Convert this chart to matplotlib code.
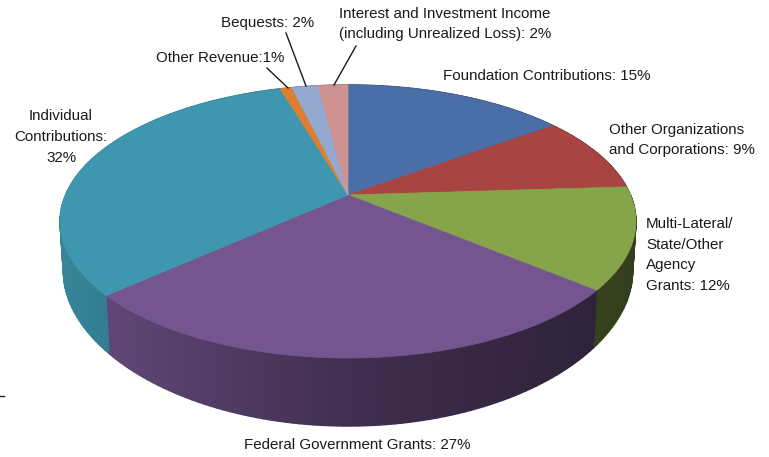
import numpy as np
import matplotlib
matplotlib.use("Agg")
import matplotlib.pyplot as plt
from matplotlib.colors import to_rgb

# revenue shares, clockwise from 12 o'clock
names = ["Foundation", "Other Org", "Multi-Lateral", "Federal", "Individual",
         "Other Revenue", "Bequests", "Interest"]
shares = [15, 9, 12, 27.4, 32, 0.8, 1.8, 2]
colors = ["#4a6fa8", "#a84442", "#86a44a", "#74558f", "#3e97ae",
          "#dc8030", "#93a9cf", "#d09290"]

labels = [
    (443, 76, "Foundation Contributions: 15%", "left"),
    (609, 140, "Other Organizations\nand Corporations: 9%", "left"),
    (646, 255, "Multi-Lateral/\nState/Other\nAgency\nGrants: 12%", "left"),
    (357, 445, "Federal Government Grants: 27%", "center"),
    (61, 137, "Individual\nContributions:\n32%", "center"),
    (220, 58, "Other Revenue:1%", "center"),
    (268, 23, "Bequests: 2%", "center"),
    (339, 24, "Interest and Investment Income\n(including Unrealized Loss): 2%", "left"),
]
leaders = [((267, 68), (288, 88)), ((286, 33), (306, 86)), ((356, 46), (334, 85))]

# fake perspective of the 3d pie, in pixels of the picture
cx, cy = 348, 195
A, B, k = 282.5, 131.4, 0.194


def rim(theta, drop=0.0):
    u, v = np.sin(theta), np.cos(theta)
    d = 1 + k * v
    x = cx + A * u / d * (1 - 0.012 * drop)
    y = cy - B * v / d + drop * (50 + 18 * v ** 2)
    return x, y


def shade(x):
    return np.interp(x, [60, 348, 636], [0.88, 0.55, 0.38])


fig = plt.figure(figsize=(7.69, 4.57), dpi=100)
ax = fig.add_axes([0, 0, 1, 1])
ax.set_xlim(0, 769)
ax.set_ylim(457, 0)
ax.axis("off")

plt.rcParams["font.family"] = ["Liberation Sans", "DejaVu Sans"]

edges = np.cumsum([0] + shares) / sum(shares) * 2 * np.pi

# side wall first, the top covers what is at the back
for i in range(len(shares)):
    t = np.linspace(edges[i], edges[i + 1], max(4, int(shares[i] * 3)))
    base = np.array(to_rgb(colors[i]))
    for a, b in zip(t[:-1], t[1:]):
        x0, y0 = rim(a)
        x1, y1 = rim(b)
        x2, y2 = rim(b, 1)
        x3, y3 = rim(a, 1)
        c = base * shade((x0 + x1) / 2)
        ax.fill([x0, x1, x2, x3], [y0, y1, y2, y3], color=c, lw=1.0, zorder=2)

# top
for i in range(len(shares)):
    t = np.linspace(edges[i], edges[i + 1], 80)
    x, y = rim(t)
    ax.fill(np.r_[cx, x], np.r_[cy, y], color=colors[i], lw=0.5, zorder=3)

for (x0, y0), (x1, y1) in leaders:
    ax.plot([x0, x1], [y0, y1], color="#1a1a1a", lw=1.0, zorder=4)

ax.plot([0, 4], [396, 396], color="#222222", lw=1.0, zorder=4)

for x, y, s, ha in labels:
    ax.text(x, y, s, ha=ha, va="center", fontsize=10.9, color="#1a1a1a",
            linespacing=1.62, zorder=5)

fig.savefig("out.png", dpi=100)
